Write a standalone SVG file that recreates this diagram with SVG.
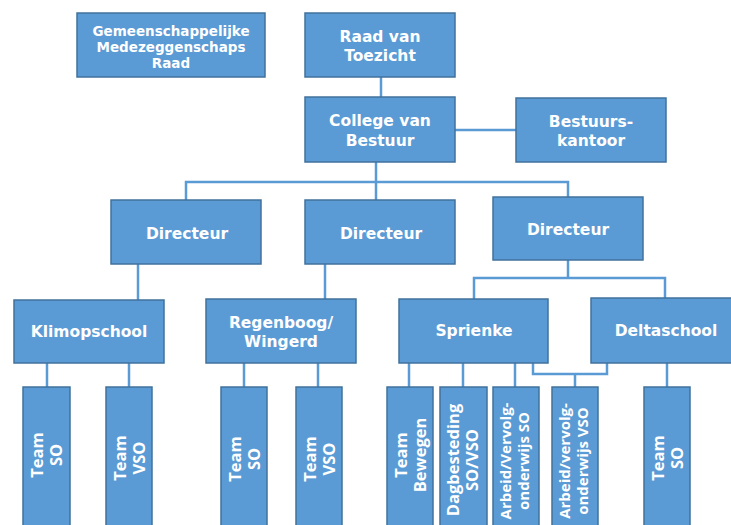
<svg xmlns="http://www.w3.org/2000/svg" width="731" height="525" viewBox="0 0 731 525">
<style>
.box{fill:#5B9BD5;stroke:#41719C;stroke-width:1.5}
.t{font-family:"DejaVu Sans",Verdana,sans-serif;font-weight:bold;font-size:15.5px;fill:#fff;text-anchor:middle}
.s{font-size:13.5px}
.v{font-family:"Open Sans","Liberation Sans",sans-serif;font-weight:bold;font-size:16.5px;fill:#fff;text-anchor:middle}
.w{font-size:15px}
.c{fill:none;stroke:#5B9BD5;stroke-width:2.5}
</style>
<rect width="731" height="525" fill="#fff"/>
<g id="connectors" class="c">
<path d="M381,77V97"/>
<path d="M455,130H516"/>
<path d="M376,162V200"/>
<path d="M186,200V182H568V197"/>
<path d="M138,264V300"/>
<path d="M325,264V299"/>
<path d="M568,260V278"/>
<path d="M474,299V278H665V298"/>
<path d="M47,363V387M129,363V387"/>
<path d="M244,363V387M318,363V387"/>
<path d="M409,363V387M463,363V387M515,363V387"/>
<path d="M533,363V374H607V363M575,374V387"/>
<path d="M667,363V387"/>
</g>
<g id="gmr"><rect class="box" x="77" y="13" width="188" height="64"/>
<text class="t s" x="171"><tspan x="171" y="36">Gemeenschappelijke</tspan><tspan x="171" y="52">Medezeggenschaps</tspan><tspan x="171" y="68">Raad</tspan></text></g>
<g id="rvt"><rect class="box" x="305" y="13" width="150" height="64"/>
<text class="t"><tspan x="380" y="41.5">Raad van</tspan><tspan x="380" y="60.5">Toezicht</tspan></text></g>
<g id="cvb"><rect class="box" x="305" y="97" width="150" height="65"/>
<text class="t"><tspan x="380" y="125.5">College van</tspan><tspan x="380" y="145.5">Bestuur</tspan></text></g>
<g id="bk"><rect class="box" x="516" y="98" width="150" height="64"/>
<text class="t"><tspan x="591" y="126.5">Bestuurs-</tspan><tspan x="591" y="145.5">kantoor</tspan></text></g>
<g id="dir1"><rect class="box" x="111" y="200" width="150" height="64"/>
<text class="t" x="187" y="239">Directeur</text></g>
<g id="dir2"><rect class="box" x="305" y="200" width="150" height="64"/>
<text class="t" x="381" y="239">Directeur</text></g>
<g id="dir3"><rect class="box" x="493" y="197" width="150" height="63"/>
<text class="t" x="568" y="235">Directeur</text></g>
<g id="klimop"><rect class="box" x="14" y="300" width="150" height="63"/>
<text class="t" x="89" y="337">Klimopschool</text></g>
<g id="regenboog"><rect class="box" x="206" y="299" width="150" height="64"/>
<text class="t"><tspan x="281" y="328">Regenboog/</tspan><tspan x="281" y="347">Wingerd</tspan></text></g>
<g id="sprienke"><rect class="box" x="399" y="299" width="149" height="64"/>
<text class="t" x="474" y="336">Sprienke</text></g>
<g id="delta"><rect class="box" x="591" y="298" width="150" height="65"/>
<text class="t" x="666" y="336">Deltaschool</text></g>
<g id="k-so"><rect class="box" x="23" y="387" width="47" height="150"/>
<text class="v" transform="translate(46.5,455) rotate(-90)"><tspan x="0" y="-3.5">Team</tspan><tspan x="0" y="15.5">SO</tspan></text></g>
<g id="k-vso"><rect class="box" x="106" y="387" width="46" height="150"/>
<text class="v" transform="translate(129,458) rotate(-90)"><tspan x="0" y="-3.5">Team</tspan><tspan x="0" y="15.5">VSO</tspan></text></g>
<g id="r-so"><rect class="box" x="221" y="387" width="46" height="150"/>
<text class="v" transform="translate(244,459) rotate(-90)"><tspan x="0" y="-3.5">Team</tspan><tspan x="0" y="15.5">SO</tspan></text></g>
<g id="r-vso"><rect class="box" x="296" y="387" width="46" height="150"/>
<text class="v" transform="translate(319,459) rotate(-90)"><tspan x="0" y="-3.5">Team</tspan><tspan x="0" y="15.5">VSO</tspan></text></g>
<g id="s-bewegen"><rect class="box" x="387" y="387" width="46" height="150"/>
<text class="v" transform="translate(410,455) rotate(-90)"><tspan x="0" y="-3.5">Team</tspan><tspan x="0" y="15.5">Bewegen</tspan></text></g>
<g id="s-dag"><rect class="box" x="440" y="387" width="47" height="150"/>
<text class="v" transform="translate(463.5,460) rotate(-90)"><tspan x="0" y="-5">Dagbesteding</tspan><tspan x="0" y="14">SO/VSO</tspan></text></g>
<g id="s-arbeid"><rect class="box" x="493" y="387" width="46" height="150"/>
<text class="v w" transform="translate(516,461) rotate(-90)"><tspan x="0" y="-5">Arbeid/Vervolg-</tspan><tspan x="0" y="13">onderwijs SO</tspan></text></g>
<g id="sd-arbeid"><rect class="box" x="552" y="387" width="46" height="150"/>
<text class="v w" transform="translate(575,461) rotate(-90)"><tspan x="0" y="-5">Arbeid/vervolg-</tspan><tspan x="0" y="13">onderwijs VSO</tspan></text></g>
<g id="d-so"><rect class="box" x="644" y="387" width="46" height="150"/>
<text class="v" transform="translate(667,458) rotate(-90)"><tspan x="0" y="-3.5">Team</tspan><tspan x="0" y="15.5">SO</tspan></text></g>
</svg>
